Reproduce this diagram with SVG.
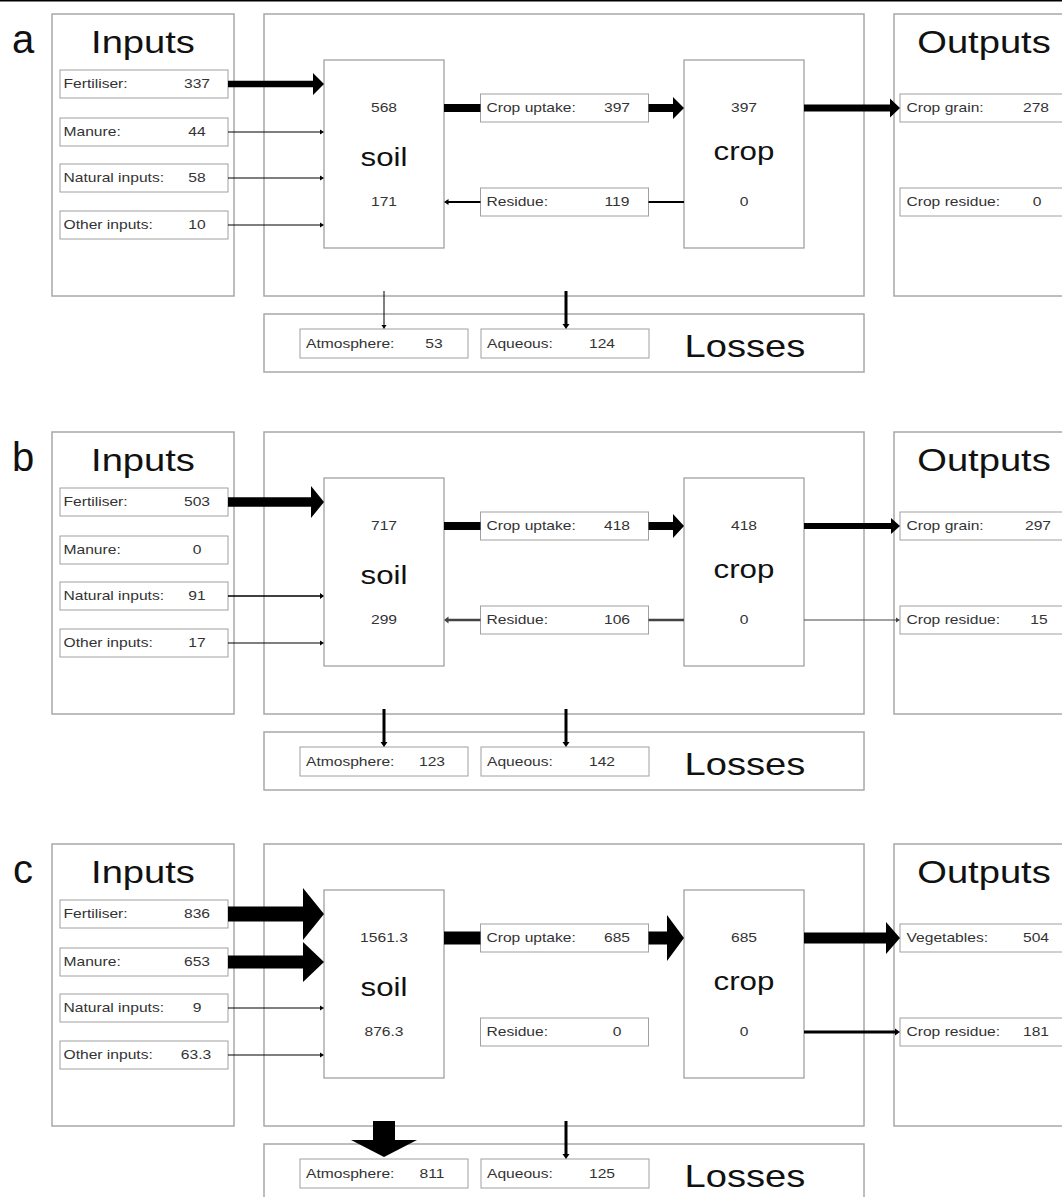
<svg xmlns="http://www.w3.org/2000/svg" width="1062" height="1197" viewBox="0 0 1062 1197">
<style>
text { font-family: "Liberation Sans", Arial, sans-serif; fill: #333; }
.s { font-size: 12.5px; }
.t { font-size: 30.5px; fill: #111; }
.m { font-size: 25px; fill: #111; }
.pl { font-size: 40px; fill: #111; text-anchor: middle; }
.l { transform-box: fill-box; transform-origin: left center; transform: scaleX(1.25); }
.c { text-anchor: middle; transform-box: fill-box; transform-origin: center; transform: scaleX(1.25); }
.big { fill: #fff; stroke: #a8a8a8; stroke-width: 1.5; }
.pool { fill: #fff; stroke: #999; stroke-width: 1.2; }
.item { fill: #fff; stroke: #a0a0a0; stroke-width: 1; }
.arr { fill: #000; }
.gr { fill: #444; }
</style>
<rect x="0" y="0" width="1062" height="1.5" fill="#000"/>

<!-- ===== Panel a ===== -->
<g id="panel-a">
  <text class="pl" x="23" y="53">a</text>
  <g id="a-inputs">
    <rect class="big" x="52" y="14" width="182" height="282"/>
    <text class="t c" x="143" y="53">Inputs</text>
    <rect class="item" x="60" y="70" width="168" height="28"/>
    <text class="s l" x="63.5" y="88.5">Fertiliser:</text><text class="s c" x="197" y="88.5">337</text>
    <rect class="item" x="60" y="118" width="168" height="28"/>
    <text class="s l" x="63.5" y="136.5">Manure:</text><text class="s c" x="197" y="136.5">44</text>
    <rect class="item" x="60" y="164" width="168" height="28"/>
    <text class="s l" x="63.5" y="182.5">Natural inputs:</text><text class="s c" x="197" y="182.5">58</text>
    <rect class="item" x="60" y="211" width="168" height="28"/>
    <text class="s l" x="63.5" y="229.5">Other inputs:</text><text class="s c" x="197" y="229.5">10</text>
  </g>
  <g id="a-system"><rect class="big" x="264" y="14" width="600" height="282"/></g>
  <g id="a-soil">
    <rect class="pool" x="324" y="60" width="120" height="188"/>
    <text class="s c" x="384" y="112.5">568</text>
    <text class="m c" x="384" y="166">soil</text>
    <text class="s c" x="384" y="206.5">171</text>
  </g>
  <g id="a-uptake">
    <rect class="item" x="480.5" y="94" width="168" height="28"/>
    <text class="s l" x="486.5" y="112.5">Crop uptake:</text><text class="s c" x="617" y="112.5">397</text>
  </g>
  <g id="a-residue">
    <rect class="item" x="480.5" y="188" width="168" height="28"/>
    <text class="s l" x="486.5" y="206.5">Residue:</text><text class="s c" x="617" y="206.5">119</text>
  </g>
  <g id="a-crop">
    <rect class="pool" x="684" y="60" width="120" height="188"/>
    <text class="s c" x="744" y="112.5">397</text>
    <text class="m c" x="744" y="160">crop</text>
    <text class="s c" x="744" y="206.5">0</text>
  </g>
  <g id="a-outputs">
    <rect class="big" x="894" y="14" width="200" height="282"/>
    <text class="t c" x="984" y="53">Outputs</text>
    <rect class="item" x="900" y="94" width="180" height="28"/>
    <text class="s l" x="906.5" y="112.5">Crop grain:</text><text class="s c" x="1036" y="112.5">278</text>
    <rect class="item" x="900" y="188" width="180" height="28"/>
    <text class="s l" x="906.5" y="206.5">Crop residue:</text><text class="s c" x="1037" y="206.5">0</text>
  </g>
  <g id="a-losses">
    <rect class="big" x="264" y="314" width="600" height="58"/>
    <rect class="item" x="300" y="329" width="168" height="29"/>
    <text class="s l" x="306" y="348">Atmosphere:</text><text class="s c" x="434" y="348">53</text>
    <rect class="item" x="481" y="329" width="168" height="29"/>
    <text class="s l" x="487" y="348">Aqueous:</text><text class="s c" x="602" y="348">124</text>
    <text class="t c" x="745" y="357">Losses</text>
  </g>
</g>

<!-- ===== Panel b ===== -->
<g id="panel-b" transform="translate(0,418)">
  <text class="pl" x="23" y="53">b</text>
  <g id="b-inputs">
    <rect class="big" x="52" y="14" width="182" height="282"/>
    <text class="t c" x="143" y="53">Inputs</text>
    <rect class="item" x="60" y="70" width="168" height="28"/>
    <text class="s l" x="63.5" y="88.5">Fertiliser:</text><text class="s c" x="197" y="88.5">503</text>
    <rect class="item" x="60" y="118" width="168" height="28"/>
    <text class="s l" x="63.5" y="136.5">Manure:</text><text class="s c" x="197" y="136.5">0</text>
    <rect class="item" x="60" y="164" width="168" height="28"/>
    <text class="s l" x="63.5" y="182.5">Natural inputs:</text><text class="s c" x="197" y="182.5">91</text>
    <rect class="item" x="60" y="211" width="168" height="28"/>
    <text class="s l" x="63.5" y="229.5">Other inputs:</text><text class="s c" x="197" y="229.5">17</text>
  </g>
  <g id="b-system"><rect class="big" x="264" y="14" width="600" height="282"/></g>
  <g id="b-soil">
    <rect class="pool" x="324" y="60" width="120" height="188"/>
    <text class="s c" x="384" y="112.5">717</text>
    <text class="m c" x="384" y="166">soil</text>
    <text class="s c" x="384" y="206.5">299</text>
  </g>
  <g id="b-uptake">
    <rect class="item" x="480.5" y="94" width="168" height="28"/>
    <text class="s l" x="486.5" y="112.5">Crop uptake:</text><text class="s c" x="617" y="112.5">418</text>
  </g>
  <g id="b-residue">
    <rect class="item" x="480.5" y="188" width="168" height="28"/>
    <text class="s l" x="486.5" y="206.5">Residue:</text><text class="s c" x="617" y="206.5">106</text>
  </g>
  <g id="b-crop">
    <rect class="pool" x="684" y="60" width="120" height="188"/>
    <text class="s c" x="744" y="112.5">418</text>
    <text class="m c" x="744" y="160">crop</text>
    <text class="s c" x="744" y="206.5">0</text>
  </g>
  <g id="b-outputs">
    <rect class="big" x="894" y="14" width="200" height="282"/>
    <text class="t c" x="984" y="53">Outputs</text>
    <rect class="item" x="900" y="94" width="180" height="28"/>
    <text class="s l" x="906.5" y="112.5">Crop grain:</text><text class="s c" x="1038" y="112.5">297</text>
    <rect class="item" x="900" y="188" width="180" height="28"/>
    <text class="s l" x="906.5" y="206.5">Crop residue:</text><text class="s c" x="1039" y="206.5">15</text>
  </g>
  <g id="b-losses">
    <rect class="big" x="264" y="314" width="600" height="58"/>
    <rect class="item" x="300" y="329" width="168" height="29"/>
    <text class="s l" x="306" y="348">Atmosphere:</text><text class="s c" x="432" y="348">123</text>
    <rect class="item" x="481" y="329" width="168" height="29"/>
    <text class="s l" x="487" y="348">Aqueous:</text><text class="s c" x="602" y="348">142</text>
    <text class="t c" x="745" y="357">Losses</text>
  </g>
</g>

<!-- ===== Panel c ===== -->
<g id="panel-c" transform="translate(0,830)">
  <text class="pl" x="23" y="53">c</text>
  <g id="c-inputs">
    <rect class="big" x="52" y="14" width="182" height="282"/>
    <text class="t c" x="143" y="53">Inputs</text>
    <rect class="item" x="60" y="70" width="168" height="28"/>
    <text class="s l" x="63.5" y="88.5">Fertiliser:</text><text class="s c" x="197" y="88.5">836</text>
    <rect class="item" x="60" y="118" width="168" height="28"/>
    <text class="s l" x="63.5" y="136.5">Manure:</text><text class="s c" x="197" y="136.5">653</text>
    <rect class="item" x="60" y="164" width="168" height="28"/>
    <text class="s l" x="63.5" y="182.5">Natural inputs:</text><text class="s c" x="197" y="182.5">9</text>
    <rect class="item" x="60" y="211" width="168" height="28"/>
    <text class="s l" x="63.5" y="229.5">Other inputs:</text><text class="s c" x="196" y="229.5">63.3</text>
  </g>
  <g id="c-system"><rect class="big" x="264" y="14" width="600" height="282"/></g>
  <g id="c-soil">
    <rect class="pool" x="324" y="60" width="120" height="188"/>
    <text class="s c" x="384" y="112.5">1561.3</text>
    <text class="m c" x="384" y="166">soil</text>
    <text class="s c" x="384" y="206.5">876.3</text>
  </g>
  <g id="c-uptake">
    <rect class="item" x="480.5" y="94" width="168" height="28"/>
    <text class="s l" x="486.5" y="112.5">Crop uptake:</text><text class="s c" x="617" y="112.5">685</text>
  </g>
  <g id="c-residue">
    <rect class="item" x="480.5" y="188" width="168" height="28"/>
    <text class="s l" x="486.5" y="206.5">Residue:</text><text class="s c" x="617" y="206.5">0</text>
  </g>
  <g id="c-crop">
    <rect class="pool" x="684" y="60" width="120" height="188"/>
    <text class="s c" x="744" y="112.5">685</text>
    <text class="m c" x="744" y="160">crop</text>
    <text class="s c" x="744" y="206.5">0</text>
  </g>
  <g id="c-outputs">
    <rect class="big" x="894" y="14" width="200" height="282"/>
    <text class="t c" x="984" y="53">Outputs</text>
    <rect class="item" x="900" y="94" width="180" height="28"/>
    <text class="s l" x="906.5" y="112.5">Vegetables:</text><text class="s c" x="1036" y="112.5">504</text>
    <rect class="item" x="900" y="188" width="180" height="28"/>
    <text class="s l" x="906.5" y="206.5">Crop residue:</text><text class="s c" x="1036" y="206.5">181</text>
  </g>
  <g id="c-losses">
    <rect class="big" x="264" y="314" width="600" height="58"/>
    <rect class="item" x="300" y="329" width="168" height="29"/>
    <text class="s l" x="306" y="348">Atmosphere:</text><text class="s c" x="432" y="348">811</text>
    <rect class="item" x="481" y="329" width="168" height="29"/>
    <text class="s l" x="487" y="348">Aqueous:</text><text class="s c" x="602" y="348">125</text>
    <text class="t c" x="745" y="357">Losses</text>
  </g>
</g>

<!-- ===== Connectors ===== -->
<g id="connectors">
  <g id="a-connectors">
    <path class="arr" d="M228 80.75 H313 V73 L324 84 L313 95 V87.25 H228 Z"/>
    <path class="arr" d="M228 131.5 H320 V129.5 L324 132 L320 134.5 V132.5 H228 Z"/>
    <path class="arr" d="M228 177.5 H320 V175.5 L324 178 L320 180.5 V178.5 H228 Z"/>
    <path class="arr" d="M228 224.5 H320 V222.5 L324 225 L320 227.5 V225.5 H228 Z"/>
    <rect class="arr" x="444" y="104" width="36.5" height="8"/>
    <path class="arr" d="M648.5 104 H673 V97 L684 108 L673 119 V112 H648.5 Z"/>
    <rect class="arr" x="648.5" y="201" width="35.5" height="2"/>
    <path class="arr" d="M480.5 201 H448.5 V199 L444 202 L448.5 205 V203 H480.5 Z"/>
    <path class="arr" d="M804 104.5 H890 V98.5 L900 108 L890 117.5 V111.5 H804 Z"/>
    <path class="arr" d="M383.5 291 V325 H381.5 L384 329 L386.5 325 H384.5 V291 Z"/>
    <path class="arr" d="M564.5 291 V324 H562.5 L566 329 L569.5 324 H567.5 V291 Z"/>
  </g>
  <g id="b-connectors" transform="translate(0,418)">
    <path class="arr" d="M228 79.25 H311 V68 L324 84 L311 100 V88.75 H228 Z"/>
    <path class="arr" d="M228 177.25 H320 V175 L324 178 L320 181 V178.75 H228 Z"/>
    <path class="arr" d="M228 224.5 H320 V222.5 L324 225 L320 227.5 V225.5 H228 Z"/>
    <rect class="arr" x="444" y="104" width="36.5" height="8"/>
    <path class="arr" d="M648.5 104 H673 V96 L684 108 L673 120 V112 H648.5 Z"/>
    <rect class="gr" x="648.5" y="200.75" width="35.5" height="2.5"/>
    <path class="gr" d="M480.5 200.75 H448.5 V198.5 L444 202 L448.5 205.5 V203.25 H480.5 Z"/>
    <path class="arr" d="M804 105 H891 V100 L900 108 L891 116 V111 H804 Z"/>
    <path class="gr" d="M804 201.5 H896 V199.5 L900 202 L896 204.5 V202.5 H804 Z"/>
    <path class="arr" d="M382.5 291 V324 H380.5 L384 329 L387.5 324 H385.5 V291 Z"/>
    <path class="arr" d="M564.5 291 V324 H562.5 L566 329 L569.5 324 H567.5 V291 Z"/>
  </g>
  <g id="c-connectors" transform="translate(0,830)">
    <path class="arr" d="M228 76.5 H303 V58 L324 84 L303 110 V91.5 H228 Z"/>
    <path class="arr" d="M228 125.5 H303 V112 L324 132 L303 152 V138.5 H228 Z"/>
    <path class="arr" d="M228 177.5 H320 V175.5 L324 178 L320 180.5 V178.5 H228 Z"/>
    <path class="arr" d="M228 224.5 H320 V222.5 L324 225 L320 227.5 V225.5 H228 Z"/>
    <rect class="arr" x="444" y="101.5" width="36.5" height="13"/>
    <path class="arr" d="M648.5 101.5 H667 V85 L684 108 L667 131 V114.5 H648.5 Z"/>
    <path class="arr" d="M804 102.5 H886 V92 L900 108 L886 124 V113.5 H804 Z"/>
    <path class="arr" d="M804 200.5 H895 V198.5 L900 202 L895 205.5 V203.5 H804 Z"/>
    <path class="arr" d="M373 291 V310 H351 L384 327 L417 310 H395 V291 Z"/>
    <path class="arr" d="M564.5 291 V324 H562.5 L566 329 L569.5 324 H567.5 V291 Z"/>
  </g>
</g>
</svg>
